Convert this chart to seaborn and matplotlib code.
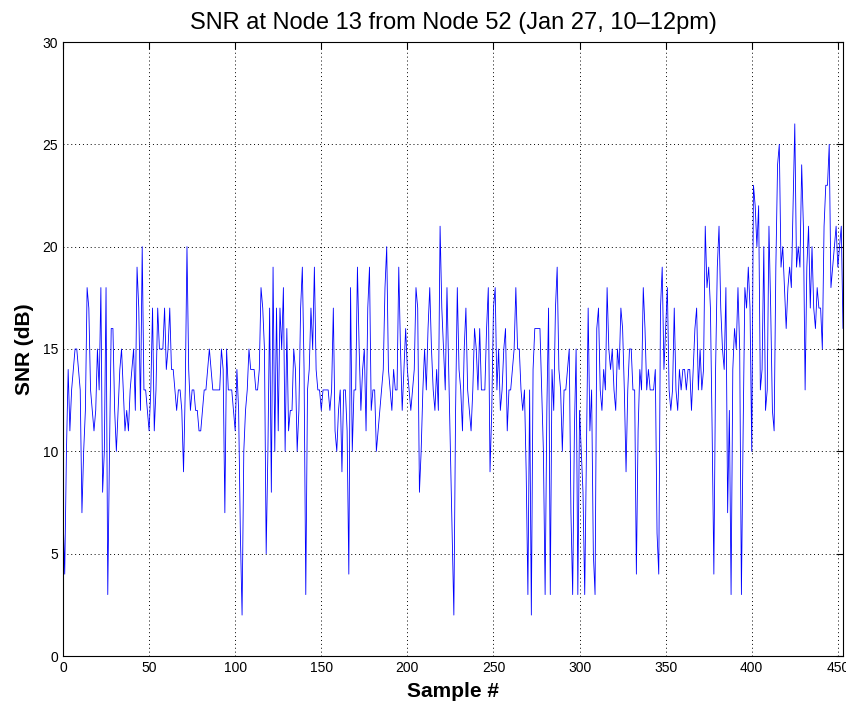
import numpy as np
import pandas as pd
import matplotlib
matplotlib.use("Agg")
import matplotlib.pyplot as plt
import seaborn as sns

# SNR samples (dB) in consecutive chunks
snr_000_040 = [7, 4, 10, 14, 11, 13, 14, 15, 15, 14, 13, 7, 10, 12, 18, 17, 13, 12, 11, 12,
               15, 13, 18, 8, 10, 18, 3, 10, 16, 16, 12, 10, 12, 14, 15, 13, 11, 12, 11, 13, 14]
snr_041_080 = [15, 12, 19, 17, 12, 20, 13, 13, 12, 11, 13, 17, 11, 13, 17, 15, 15, 15, 17, 14,
               15, 17, 14, 14, 13, 12, 13, 13, 12, 9, 13, 20, 14, 12, 13, 13, 12, 12, 11, 11]
snr_081_121 = [12, 13, 13, 14, 15, 14, 13, 13, 13, 13, 13, 15, 14, 7, 15, 13, 13, 13, 12, 11,
               14, 12, 6, 2, 10, 12, 13, 15, 14, 14, 14, 13, 13, 14, 18, 17, 15, 5, 10, 17, 8]
snr_122_162 = [19, 10, 17, 11, 17, 15, 18, 10, 16, 11, 12, 12, 15, 14, 10, 12, 17, 19, 14, 3,
               13, 14, 17, 15, 19, 14, 13, 13, 12, 13, 13, 13, 13, 12, 13, 17, 11, 10, 12, 13, 9]
snr_163_202 = [13, 13, 11, 4, 18, 10, 13, 13, 19, 15, 12, 14, 15, 11, 17, 19, 12, 13, 13, 10,
               11, 12, 13, 14, 18, 20, 14, 13, 12, 14, 13, 13, 19, 15, 12, 14, 16, 14, 13, 12]
snr_203_242 = [13, 14, 18, 17, 8, 10, 13, 15, 13, 16, 18, 15, 13, 12, 14, 12, 21, 17, 15, 13,
               18, 14, 10, 6, 2, 12, 18, 14, 13, 11, 15, 17, 13, 12, 11, 13, 16, 15, 13, 16]
snr_243_283 = [13, 13, 13, 16, 18, 9, 12, 17, 18, 13, 15, 12, 13, 15, 16, 11, 13, 13, 14, 15,
               18, 15, 15, 13, 12, 13, 9, 3, 13, 2, 14, 16, 16, 16, 16, 13, 10, 3, 12, 17, 3]
snr_284_325 = [14, 12, 17, 19, 14, 13, 10, 13, 13, 14, 15, 7, 3, 11, 15, 3, 12, 10, 8, 3,
               10, 17, 11, 13, 5, 3, 16, 17, 13, 12, 14, 13, 18, 15, 14, 15, 13, 12, 15, 14, 17, 16]
snr_326_365 = [13, 9, 13, 15, 15, 13, 13, 4, 11, 14, 13, 18, 16, 13, 14, 13, 13, 13, 14, 6,
               4, 17, 19, 14, 16, 18, 13, 12, 13, 17, 13, 12, 14, 13, 14, 14, 13, 14, 14, 12]
snr_366_405 = [14, 16, 17, 13, 15, 13, 14, 21, 18, 19, 17, 11, 4, 14, 19, 21, 17, 15, 14, 18,
               7, 12, 3, 14, 16, 15, 18, 15, 3, 11, 18, 17, 19, 17, 10, 23, 22, 20, 22, 13]
snr_406_453 = [14, 20, 12, 13, 21, 17, 12, 11, 19, 24, 25, 19, 20, 18, 16, 18, 19, 18, 22, 26,
               19, 20, 19, 24, 21, 13, 19, 21, 17, 20, 17, 16, 18, 17, 17, 15, 21, 23, 23, 25,
               18, 19, 20, 21, 19, 20, 21, 16]

snr = (snr_000_040 + snr_041_080 + snr_081_121 + snr_122_162 + snr_163_202 +
       snr_203_242 + snr_243_283 + snr_284_325 + snr_326_365 + snr_366_405 + snr_406_453)
sample = np.arange(len(snr))
df = pd.DataFrame({"sample": sample, "snr": snr})

x_ticks = [0, 50, 100, 150, 200, 250, 300, 350, 400, 450]
y_ticks = [0, 5, 10, 15, 20, 25, 30]

sns.set_style("white")
plt.rcParams["font.family"] = ["Liberation Sans", "DejaVu Sans"]
plt.rcParams["text.color"] = "black"
plt.rcParams["axes.labelcolor"] = "black"

fig = plt.figure(figsize=(8.46, 7.07), dpi=100)
ax = fig.add_axes([63 / 846, 51 / 707, 780 / 846, 614 / 707])

sns.lineplot(data=df, x="sample", y="snr", ax=ax, color=(0, 0, 1),
             linewidth=0.6, estimator=None)

ax.set_xlim(0, 453)
ax.set_ylim(0, 30)
ax.set_xticks(x_ticks)
ax.set_yticks(y_ticks)
ax.tick_params(direction="in", top=True, right=True, length=5, width=0.8,
               labelsize=10, colors="black")
for s in ax.spines.values():
    s.set_visible(True)
    s.set_color("black")
    s.set_linewidth(0.8)
ax.grid(True, color="black", linestyle=(0, (1, 3)), linewidth=0.7)

ax.set_title("SNR at Node 13 from Node 52 (Jan 27, 10\u201312pm)", fontsize=17,
             pad=9, color="black")
ax.set_xlabel("Sample #", fontsize=15, fontweight="bold", labelpad=5, color="black")
ax.set_ylabel("SNR (dB)", fontsize=15, fontweight="bold", labelpad=6, color="black")

fig.savefig("out.png", dpi=100)
